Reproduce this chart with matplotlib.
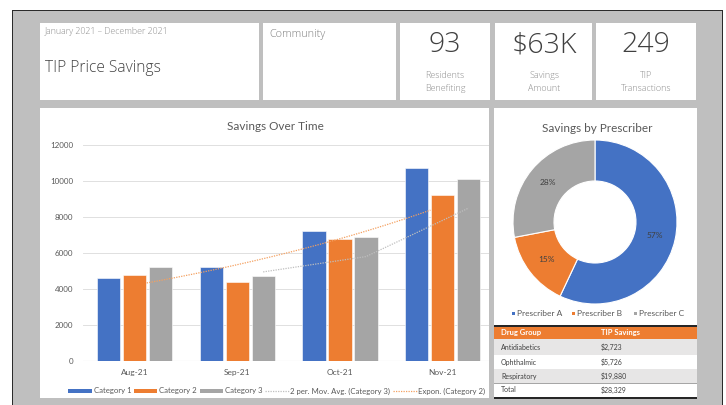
import numpy as np
import matplotlib
matplotlib.use("Agg")
import matplotlib.pyplot as plt
from matplotlib.patches import Rectangle, Patch
from matplotlib.lines import Line2D

# ---------------- data ----------------
months = ["Aug-21", "Sep-21", "Oct-21", "Nov-21"]
cat1 = [4600, 5200, 7200, 10700]
cat2 = [4800, 4400, 6800, 9200]
cat3 = [5200, 4700, 6900, 10100]
series_names = ["Category 1", "Category 2", "Category 3"]
trend_names = ["2 per. Mov. Avg. (Category 3)", "Expon. (Category 2)"]
yticks = [0, 2000, 4000, 6000, 8000, 10000, 12000]

prescribers = ["Prescriber A", "Prescriber B", "Prescriber C"]
prescriber_share = [57, 15, 28]

drug_groups = ["Antidiabetics", "Ophthalmic", "Respiratory"]
drug_savings = [2723, 5726, 19880]

kpi_values = ["93", "$63K", "249"]
kpi_labels = ["Residents\nBenefiting", "Savings\nAmount", "TIP\nTransactions"]

period_text = "January 2021 \u2013 December 2021"
title_text = "TIP Price Savings"
community_text = "Community"

# ---------------- figure ----------------
W, H = 726, 405
fig = plt.figure(figsize=(W / 100, H / 100), dpi=100)
fig.patch.set_facecolor("white")

HFONT = ["Open Sans", "Lato", "DejaVu Sans"]
CFONT = ["Lato", "DejaVu Sans"]
BLUE, ORANGE, GRAY = "#4472C4", "#ED7D31", "#A5A5A5"


def rect(x0, y0, x1, y1, color, z=0):
    fig.patches.append(Rectangle((x0 / W, 1 - y1 / H), (x1 - x0) / W, (y1 - y0) / H,
                                 transform=fig.transFigure, facecolor=color,
                                 edgecolor="none", zorder=z))


def txt(x, y, s, **kw):
    kw.setdefault("zorder", 10)
    fig.text(x / W, 1 - y / H, s, **kw)


# frame
rect(12, 10, 723, 405, "#2b2b2b", 0)
rect(13, 11, 722, 405, "#bfbfbf", 0)

# panels
for (x0, y0, x1, y1) in [(40, 23, 259, 100), (263, 23, 396, 100), (400, 23, 490, 100),
                         (495, 23, 592, 100), (596, 23, 696, 100),
                         (40, 108, 489, 398), (494, 108, 697, 398)]:
    rect(x0, y0, x1, y1, "white", 1)

# header texts
txt(45, 32, period_text, fontsize=6.3, color="#8c8c8c", family=HFONT,
    fontweight="light", va="center", ha="left")
txt(45, 68, title_text, fontsize=11.2, color="#404040", family=HFONT,
    fontweight="light", va="center", ha="left")
txt(269, 34, community_text, fontsize=7.8, color="#7f7f7f", family=HFONT,
    fontweight="light", va="center", ha="left")
for cx, v, lab in zip([445, 544, 646], kpi_values, kpi_labels):
    txt(cx, 45, v, fontsize=20.5, color="#404040", family=HFONT, fontweight="light",
        va="center", ha="center")
    txt(cx, 82, lab, fontsize=6.5, color="#8c8c8c", family=HFONT, fontweight="light",
        va="center", ha="center", linespacing=1.55)

# ---------------- bar chart ----------------
ax = fig.add_axes([83 / W, 1 - 361 / H, (489 - 83) / W, (361 - 145) / H])
ax.set_zorder(2)
ax.patch.set_alpha(0)
x = np.arange(len(months))
bw = 0.227
step = 0.253
for i, (vals, col, name) in enumerate(zip([cat1, cat2, cat3], [BLUE, ORANGE, GRAY], series_names)):
    ax.bar(x + (i - 1) * step, vals, width=bw, color=col, edgecolor="white",
           linewidth=0.4, label=name, zorder=2)

# 2 period moving average of category 3 (at category-3 bar positions)
c3 = np.array(cat3, dtype=float)
mov = (c3[1:] + c3[:-1]) / 2
ax.plot(x[1:] + step, mov, color="#bfbfbf", linestyle=(0, (1, 1)), linewidth=0.9, zorder=3)

# exponential trend of category 2
c2 = np.array(cat2, dtype=float)
b, a = np.polyfit(x, np.log(c2), 1)
xt = np.linspace(0.12, 2.88, 50)
ax.plot(xt, np.exp(a + b * xt), color="#F4A060", linestyle=(0, (1, 1)), linewidth=0.9, zorder=3)

ax.set_xlim(-0.5, 3.45)
ax.set_ylim(0, 12000)
ax.set_yticks(yticks)
ax.set_yticklabels([str(t) for t in yticks], fontsize=5.8, color="#595959", family=CFONT)
ax.set_xticks(x)
ax.set_xticklabels(months, fontsize=6, color="#595959", family=CFONT)
ax.tick_params(axis="y", length=0, pad=7)
ax.tick_params(axis="x", length=0, pad=6)
ax.grid(axis="y", color="#e0e0e0", linewidth=0.7, zorder=0)
ax.set_axisbelow(True)
for s in ax.spines.values():
    s.set_visible(False)
ax.axhline(0, color="#d9d9d9", linewidth=0.8, zorder=1)

txt(275, 127, "Savings Over Time", fontsize=8.5, color="#595959", family=CFONT,
    va="center", ha="center")

handles = [Patch(facecolor=BLUE), Patch(facecolor=ORANGE), Patch(facecolor=GRAY),
           Line2D([], [], color="#bfbfbf", linestyle=(0, (1, 1)), linewidth=0.9),
           Line2D([], [], color="#F4A060", linestyle=(0, (1, 1)), linewidth=0.9)]
leg = fig.legend(handles, series_names + trend_names, loc="center",
                 bbox_to_anchor=(277 / W, 1 - 391 / H), ncol=5, frameon=False,
                 handlelength=3.0, handleheight=0.45,
                 columnspacing=0.35, handletextpad=0.25, borderpad=0,
                 prop={"family": CFONT, "size": 5.6})
for t in leg.get_texts():
    t.set_color("#595959")

# ---------------- donut ----------------
R = 82
pax = fig.add_axes([(595 - R) / W, 1 - (222 + R) / H, 2 * R / W, 2 * R / H])
pax.set_zorder(2)
wedges, _ = pax.pie(prescriber_share, colors=[BLUE, ORANGE, GRAY], startangle=90,
                    counterclock=False, radius=1,
                    wedgeprops=dict(width=0.5, edgecolor="white", linewidth=0.8))
pax.set_xlim(-1, 1)
pax.set_ylim(-1, 1)
pax.set_aspect("equal")
pax.axis("off")
total = sum(prescriber_share)
ang0 = 90.0
for v in prescriber_share:
    mid = ang0 - v / total * 360 / 2
    ang0 -= v / total * 360
    r = 0.75
    pax.text(r * np.cos(np.radians(mid)), r * np.sin(np.radians(mid)), f"{v}%",
             ha="center", va="center", fontsize=6, color="#404040", family=CFONT)

txt(597, 129, "Savings by Prescriber", fontsize=8.5, color="#595959", family=CFONT,
    va="center", ha="center")

for mx, col, name in zip([513, 573, 635], [BLUE, ORANGE, GRAY], prescribers):
    rect(mx - 1.5, 311.5, mx + 1.5, 314.5, col, 3)
    txt(mx + 4, 313, name, fontsize=6, color="#595959", family=CFONT,
        va="center", ha="left")

# ---------------- table ----------------
TX0, TX1 = 494, 697
rect(TX0, 326, TX1, 339, ORANGE, 2)
rect(TX0, 325, TX1, 327, "#262626", 3)
row_tops = [339, 355, 369, 383]
row_bots = [355, 369, 383, 397]
row_cols = ["#e7e6e6", "white", "#e7e6e6", "white"]
for t, bt, c in zip(row_tops, row_bots, row_cols):
    rect(TX0, t, TX1, bt, c, 2)
rect(TX0, 382.5, TX1, 383.5, "#a6a6a6", 3)
rect(TX0, 396.5, TX1, 398.5, "#262626", 3)

txt(501, 332.5, "Drug Group", fontsize=5.5, color="white", family=CFONT,
    fontweight="bold", va="center", ha="left")
txt(601, 332.5, "TIP Savings", fontsize=5.5, color="white", family=CFONT,
    fontweight="bold", va="center", ha="left")
rows_labels = drug_groups + ["Total"]
rows_vals = drug_savings + [sum(drug_savings)]
for t, bt, lab, v in zip(row_tops, row_bots, rows_labels, rows_vals):
    yc = (t + bt) / 2
    txt(501, yc, lab, fontsize=5, color="#404040", family=CFONT,
        va="center", ha="left")
    txt(601, yc, f"${v:,}", fontsize=5, color="#404040", family=CFONT,
        va="center", ha="left")

fig.savefig("out.png", dpi=100)
